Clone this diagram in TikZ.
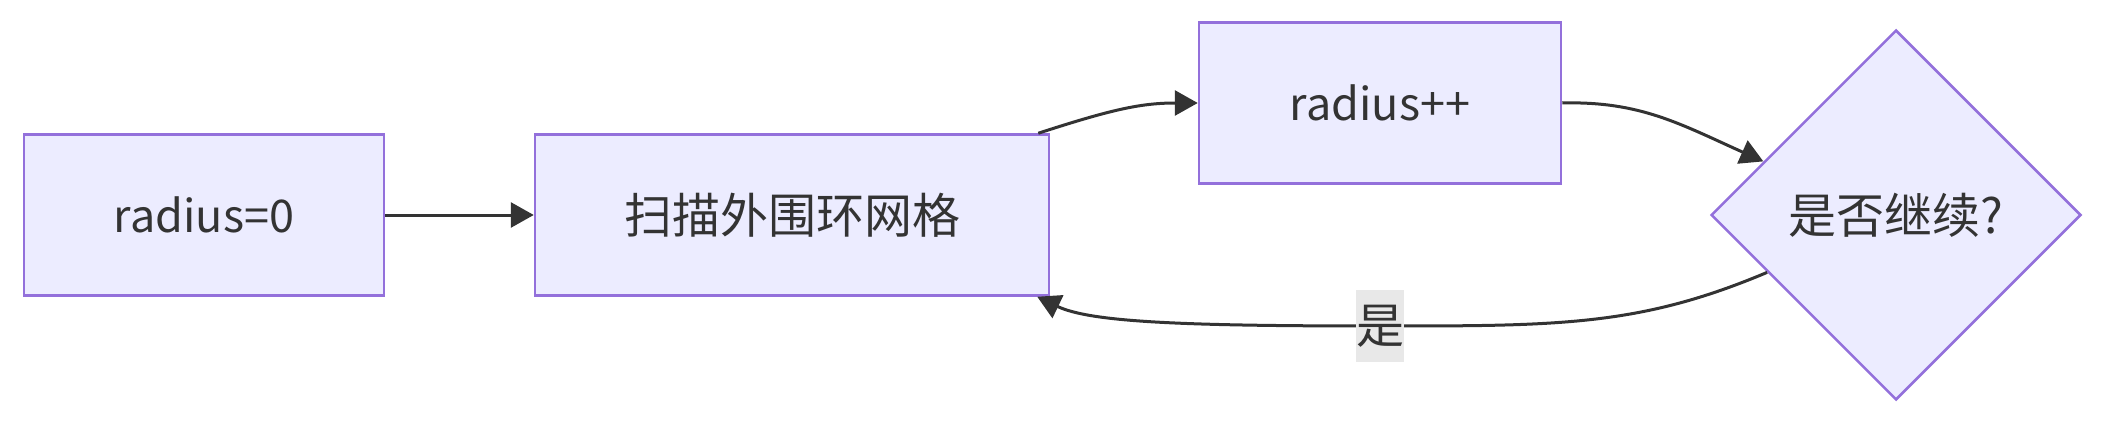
\documentclass[tikz,border=0pt]{standalone}
\usepackage{fontspec}
\setmainfont{Noto Sans CJK SC}
\usetikzlibrary{shapes.geometric,arrows.meta}
\definecolor{nfill}{HTML}{ECECFF}
\definecolor{nline}{HTML}{9370DB}
\definecolor{ink}{HTML}{333333}
\definecolor{lblbg}{HTML}{E8E8E8}
\tikzset{
  proc/.style={rectangle,draw=nline,fill=nfill,line width=2.5pt,minimum height=161pt,inner sep=0pt,text=ink,font=\fontsize{48}{58}\selectfont},
  latin/.style={font=\fontsize{45}{54}\selectfont},
  decide/.style={diamond,draw=nline,fill=nfill,line width=2.5pt,minimum width=370pt,minimum height=370pt,inner sep=0pt,text=ink,font=\fontsize{48}{58}\selectfont},
  conn/.style={draw=ink,line width=3pt,-{Triangle[length=23pt,width=25pt]}},
  elabel/.style={fill=lblbg,inner sep=0pt,minimum width=48pt,minimum height=72pt,text=ink,font=\fontsize{48}{58}\selectfont}
}
\begin{document}
\begin{tikzpicture}[x=1pt,y=-1pt]
\useasboundingbox (0,0) rectangle (2106,425);
\node[proc,latin,minimum width=360pt] (b1) at (204,215) {radius=0};
\node[proc,minimum width=514pt] (b2) at (792,215) {扫描外围环网格};
\node[proc,latin,minimum width=362pt] (b3) at (1380,103) {radius++};
\node[decide] (d) at (1896,215) {是否继续?};
\coordinate (lc) at (1380,326);
\draw[conn] (b1.east) -- (b2.west);
\draw[conn] ([xshift=-12pt]b2.north east) .. controls (1110,110) and (1140,103) .. (b3.west);
\draw[conn] (b3.east) .. controls (1640,101) and (1680,124) .. (d.158);
\draw[conn] (d.204) .. controls (1640,326) and (1560,326) .. (lc) .. controls (1180,326) and (1090,322) .. ([xshift=-13pt]b2.south east);
\node[elabel] (yes) at (lc) {是};
\end{tikzpicture}
\end{document}
